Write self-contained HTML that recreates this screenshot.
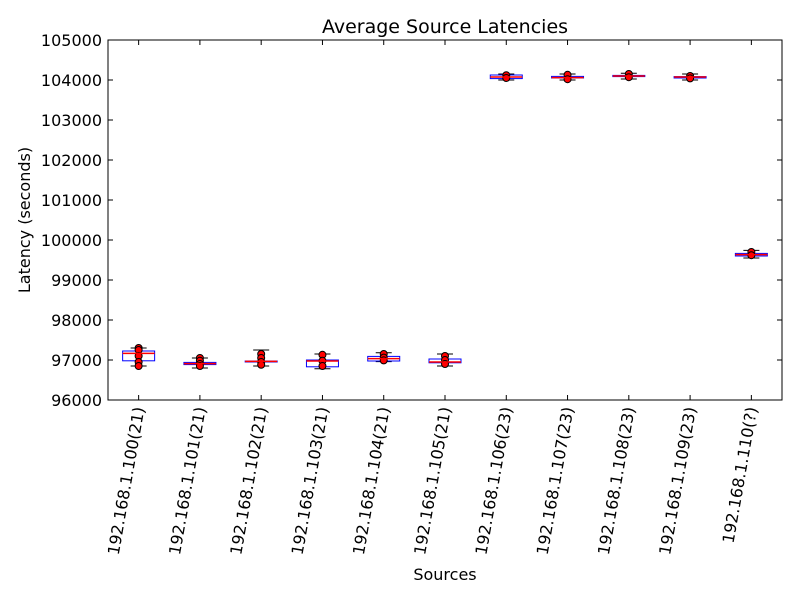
<!DOCTYPE html>
<html><head><meta charset="utf-8"><style>body{margin:0;background:#fff}svg{display:block;font-family:"DejaVu Sans","Liberation Sans",sans-serif}</style></head>
<body>
<svg id="c" width="800" height="600"></svg>
<script>
const categories=["192.168.1.100(21)","192.168.1.101(21)","192.168.1.102(21)","192.168.1.103(21)","192.168.1.104(21)","192.168.1.105(21)","192.168.1.106(23)","192.168.1.107(23)","192.168.1.108(23)","192.168.1.109(23)","192.168.1.110(?)"];
const q1=[96980,96885,96950,96830,96975,96930,104035,104050,104085,104050,99600];
const medians=[97165,96910,96965,96975,97035,96950,104075,104060,104100,104075,99635];
const q3=[97225,96940,96975,97000,97090,97025,104125,104090,104115,104085,99665];
const whisLo=[96850,96800,96850,96780,96960,96850,104000,104000,104025,104000,99550];
const whisHi=[97300,97050,97250,97150,97180,97150,104150,104150,104170,104150,99740];
const points=[[97300,97250,97100,96950,96850],[97050,96980,96900,96850],[97150,97050,96950,96880],[97130,96980,96850],[97150,97060,96990],[97100,97000,96900],[104120,104050],[104130,104020],[104150,104070],[104100,104040],[99700,99620]];
const yTicks=[96000,97000,98000,99000,100000,101000,102000,103000,104000,105000];
const L=108,R=782,T=40,B=400,yMin=96000,yMax=105000;
const ns="http://www.w3.org/2000/svg",svg=document.getElementById('c');
const y=v=>B-(v-yMin)/(yMax-yMin)*(B-T);
const bw=(R-L)/categories.length;
const x=i=>L+bw*(i+0.5);
function mk(t,a,p){const e=document.createElementNS(ns,t);for(const k in a)e.setAttribute(k,a[k]);(p||svg).appendChild(e);return e;}
let e;
e=mk('rect',{x:L,y:T,width:R-L,height:B-T,fill:'#fff',stroke:'#000','stroke-width':1});


categories.forEach((c,i)=>{
 const cx=x(i),hw=16,cw=8;
 mk('line',{x1:cx,x2:cx,y1:y(q3[i]),y2:y(whisHi[i]),stroke:'#00f','stroke-dasharray':'3,2'});
 mk('line',{x1:cx,x2:cx,y1:y(q1[i]),y2:y(whisLo[i]),stroke:'#00f','stroke-dasharray':'3,2'});
 mk('line',{x1:cx-cw,x2:cx+cw,y1:y(whisHi[i]),y2:y(whisHi[i]),stroke:'#000'});
 mk('line',{x1:cx-cw,x2:cx+cw,y1:y(whisLo[i]),y2:y(whisLo[i]),stroke:'#000'});
 e=mk('rect',{x:cx-hw,y:y(q3[i]),width:2*hw,height:Math.max(1,y(q1[i])-y(q3[i])),fill:'none',stroke:'#00f'});
 
 
 points[i].forEach(p=>{e=mk('circle',{cx:cx,cy:y(p),r:3.5,fill:'#f00',stroke:'#000'});
 
 });
 mk('line',{x1:cx-hw,x2:cx+hw,y1:y(medians[i]),y2:y(medians[i]),stroke:'#f00','stroke-width':1.5});
 mk('line',{x1:cx,x2:cx,y1:B,y2:B-5,stroke:'#000'});
 mk('line',{x1:cx,x2:cx,y1:T,y2:T+5,stroke:'#000'});
 e=mk('text',{x:cx+6,y:408,'font-size':16,'text-anchor':'end',transform:`rotate(-80 ${cx+6} 408)`});
 e.textContent=c;
 
 
});
yTicks.forEach(v=>{
 mk('line',{x1:L,x2:L+5,y1:y(v),y2:y(v),stroke:'#000'});
 mk('line',{x1:R,x2:R-5,y1:y(v),y2:y(v),stroke:'#000'});
 e=mk('text',{x:102,y:y(v)+6,'font-size':16,'text-anchor':'end'});
 e.textContent=v;
 
 
});
e=mk('text',{x:445,y:33,'font-size':19,'text-anchor':'middle'});e.textContent='Average Source Latencies';


e=mk('text',{x:445,y:580,'font-size':16,'text-anchor':'middle'});e.textContent='Sources';


e=mk('text',{x:30,y:220,'font-size':16,'text-anchor':'middle',transform:'rotate(-90 30 220)'});e.textContent='Latency (seconds)';


</script>
</body></html>
